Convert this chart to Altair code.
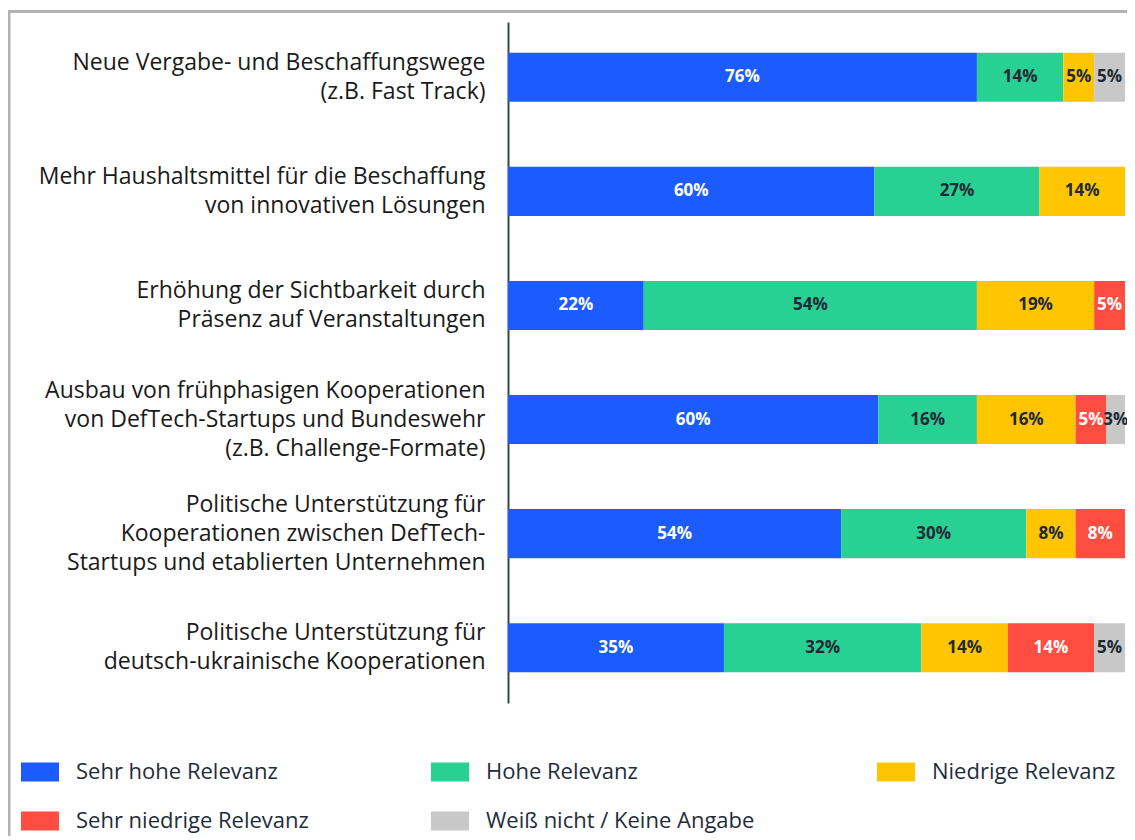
import altair as alt
import pandas as pd

categories = [
    "Neue Vergabe- und Beschaffungswege|(z.B. Fast Track)",
    "Mehr Haushaltsmittel für die Beschaffung|von innovativen Lösungen",
    "Erhöhung der Sichtbarkeit durch|Präsenz auf Veranstaltungen",
    "Ausbau von frühphasigen Kooperationen|von DefTech-Startups und Bundeswehr|(z.B. Challenge-Formate)",
    "Politische Unterstützung für|Kooperationen zwischen DefTech-|Startups und etablierten Unternehmen",
    "Politische Unterstützung für|deutsch-ukrainische Kooperationen",
]
series = [
    "Sehr hohe Relevanz",
    "Hohe Relevanz",
    "Niedrige Relevanz",
    "Sehr niedrige Relevanz",
    "Weiß nicht / Keine Angabe",
]
sehr_hohe = [76, 60, 22, 60, 54, 35]
hohe = [14, 27, 54, 16, 30, 32]
niedrige = [5, 14, 19, 16, 8, 14]
sehr_niedrige = [0, 0, 5, 5, 8, 14]
weiss_nicht = [5, 0, 0, 3, 0, 5]
colors = ["#1c5cff", "#29d094", "#ffc600", "#ff4d42", "#c8c8c8"]

values = [sehr_hohe, hohe, niedrige, sehr_niedrige, weiss_nicht]
rows = []
for ci, cat in enumerate(categories):
    for si, s in enumerate(series):
        v = values[si][ci]
        if v > 0:
            rows.append({"cat": cat, "series": s, "value": v, "order": si})
df = pd.DataFrame(rows)

FONT = "Open Sans"
LH = 29

base = alt.Chart(df).transform_stack(
    stack="value",
    groupby=["cat"],
    as_=["x0", "x1"],
    offset="normalize",
    sort=[alt.SortField("order", order="ascending")],
).transform_calculate(
    mid="(datum.x0 + datum.x1) / 2",
    label="datum.value + '%'",
    tc="(datum.order == 0 || datum.order == 3) ? '#ffffff' : '#1d2a35'",
)

y_enc = alt.Y(
    "cat:N",
    sort=categories,
    scale=alt.Scale(paddingInner=0.57, paddingOuter=0.27),
    axis=alt.Axis(
        title=None,
        labelExpr="split(datum.label, '|')",
        labelFontSize=23,
        labelFont=FONT,
        labelColor="#1a1a1a",
        labelLineHeight=LH,
        labelPadding=23,
        labelOffset={
            "condition": [
                {"test": "length(split(datum.value, '|')) == 3", "value": -LH},
                {"test": "length(split(datum.value, '|')) == 2", "value": -LH / 2},
            ],
            "value": 0,
        },
        ticks=False,
        domainColor="#3b4747",
        domainWidth=2,
        labelLimit=0,
        labelAlign="right",
        labelBaseline="middle",
        grid=False,
    ),
)
x_scale = alt.Scale(domain=[0, 1], nice=False, zero=True)

bars = base.mark_bar().encode(
    x=alt.X("x0:Q", scale=x_scale, axis=None),
    x2="x1:Q",
    y=y_enc,
    color=alt.Color(
        "series:N",
        scale=alt.Scale(domain=series, range=colors),
        legend=alt.Legend(
            title=None,
            orient="none",
            legendX=-487,
            legendY=731,
            columns=3,
            direction="horizontal",
            symbolType="M-1,-0.5H1V0.5H-1Z",
            symbolSize=1444,
            symbolStrokeWidth=0,
            symbolOpacity=1,
            labelFontSize=22,
            labelFont=FONT,
            labelColor="#1f2d3a",
            labelOffset=17,
            columnPadding=122,
            rowPadding=19,
            labelLimit=0,
        ),
    ),
)

text = base.mark_text(fontSize=17, fontWeight="bold", font=FONT).encode(
    x=alt.X("mid:Q", scale=x_scale, axis=None),
    y=alt.Y("cat:N", sort=categories),
    text="label:N",
    color=alt.Color("tc:N", scale=None),
)

border_top = alt.Chart(alt.Data(values=[{}])).mark_rule(color="#b3b3b3", strokeWidth=3).encode(
    x=alt.value(-499), x2=alt.value(700), y=alt.value(-10.5)
)
border_left = alt.Chart(alt.Data(values=[{}])).mark_rule(color="#b3b3b3", strokeWidth=3).encode(
    x=alt.value(-499), y=alt.value(-12), y2=alt.value(900)
)

chart = alt.layer(border_top, border_left, bars, text).properties(
    width=617,
    height=681,
    autosize=alt.AutoSizeParams(type="none"),
    padding={"left": 500, "top": 14, "right": 2, "bottom": 133},
).configure_view(stroke=None)

chart.save("out.html", embed_options={"renderer": "svg", "actions": False})
